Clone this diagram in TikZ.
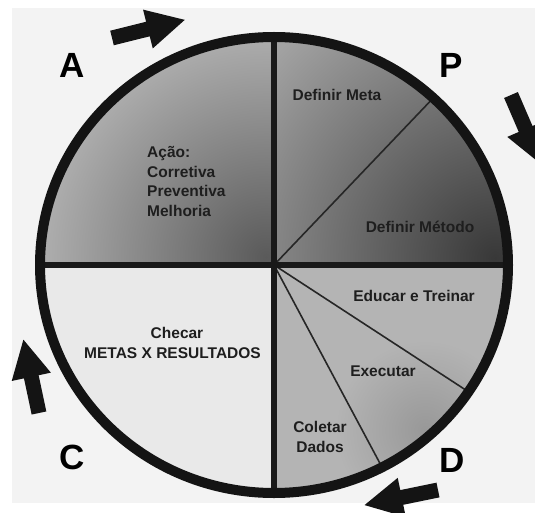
\documentclass[tikz,border=0pt]{standalone}
\usepackage{fontspec}
\setmainfont{Liberation Sans}
\definecolor{bg}{HTML}{F3F3F3}
\definecolor{txt}{HTML}{1E1E1E}
\definecolor{qaL}{HTML}{B4B4B4}
\definecolor{qaD}{HTML}{5A5A5A}
\definecolor{qpL}{HTML}{A2A2A2}
\definecolor{qpD}{HTML}{383838}
\definecolor{qdL}{HTML}{B4B4B4}
\definecolor{qdD}{HTML}{989898}
\definecolor{qc}{HTML}{E9E9E9}
\begin{document}
\begin{tikzpicture}[x=1pt,y=-1pt,
  lbl/.style={font=\bfseries\fontsize{15.5}{19.5}\selectfont, text=txt, inner sep=0pt, align=center},
  one/.style={lbl, text height=11.1pt, text depth=0pt},
  big/.style={font=\bfseries\fontsize{35}{40}\selectfont, text=black, inner sep=0pt},
  divider/.style={line width=1.6pt, draw=black!85},
  axisline/.style={line width=6pt, draw=black!90},
  rim/.style={line width=10pt, draw=black!92},
  blockarrow/.pic={\fill[black!92] (0,-7.5) -- (37,-7.5) -- (37,-20) -- (75,0) -- (37,20) -- (37,7.5) -- (0,7.5) -- cycle;}
]
\useasboundingbox (0,0) rectangle (535,513);
\fill[white] (0,0) rectangle (535,513);
\fill[bg] (12,8) rectangle (535,503);
\coordinate (O) at (274,265);
\coordinate (top) at (274,20);
\coordinate (bot) at (274,510);
\coordinate (lft) at (20,265);
\coordinate (rgt) at (530,265);
\coordinate (pend) at (459,71);
\coordinate (dend1) at (501,413);
\coordinate (dend2) at (399,499);
\begin{scope}
  \clip (O) ellipse [x radius=234pt, y radius=228pt];
  % A quadrant
  \begin{scope}
    \clip (O) rectangle (20,20);
    \fill[qaL] (O) rectangle (20,20);
    \shade[inner color=qaD, outer color=qaL] (266,257) circle [radius=240pt];
  \end{scope}
  % P quadrant
  \begin{scope}
    \clip (O) rectangle (530,20);
    \fill[qpL] (O) rectangle (530,20);
    \shade[inner color=qpD, outer color=qpL] (495,258) circle [radius=300pt];
  \end{scope}
  % D quadrant
  \begin{scope}
    \clip (O) rectangle (530,510);
    \fill[qdL] (O) rectangle (530,510);
    \shade[inner color=qdD, outer color=qdL] (425,430) circle [radius=90pt];
  \end{scope}
  % C quadrant
  \fill[qc] (O) rectangle (20,510);
  \draw[divider] (O) -- (pend);
  \draw[divider] (O) -- (dend1);
  \draw[divider] (O) -- (dend2);
  \draw[axisline] (top) -- (bot);
  \draw[axisline] (lft) -- (rgt);
\end{scope}
\draw[rim] (O) ellipse [x radius=234pt, y radius=228pt];
% labels
\node[one] (meta) at (337,95) {Definir Meta};
\node[one] (metodo) at (420,227) {Definir Método};
\node[lbl, align=left, anchor=north west] (acao) at (147,146.5) {Ação:\\Corretiva\\Preventiva\\Melhoria};
\node[one] (checar) at (177,333) {Checar};
\node[one] (metas) at (172.5,353) {METAS X RESULTADOS};
\node[one] (educar) at (414,296) {Educar e Treinar};
\node[one] (exec) at (383,371) {Executar};
\node[lbl, anchor=north] (coletar) at (320,421.5) {Coletar\\Dados};
\node[big] (A) at (72,65) {A};
\node[big] (P) at (451,65) {P};
\node[big] (C) at (72,457) {C};
\node[big] (D) at (452,460) {D};
% arrows
\pic[rotate=14] at (112,38) {blockarrow};
\pic[rotate=-66.7] at (511,95) {blockarrow};
\pic[rotate=191.6] at (438,490) {blockarrow};
\pic[rotate=102] at (39,413) {blockarrow};
\end{tikzpicture}
\end{document}
